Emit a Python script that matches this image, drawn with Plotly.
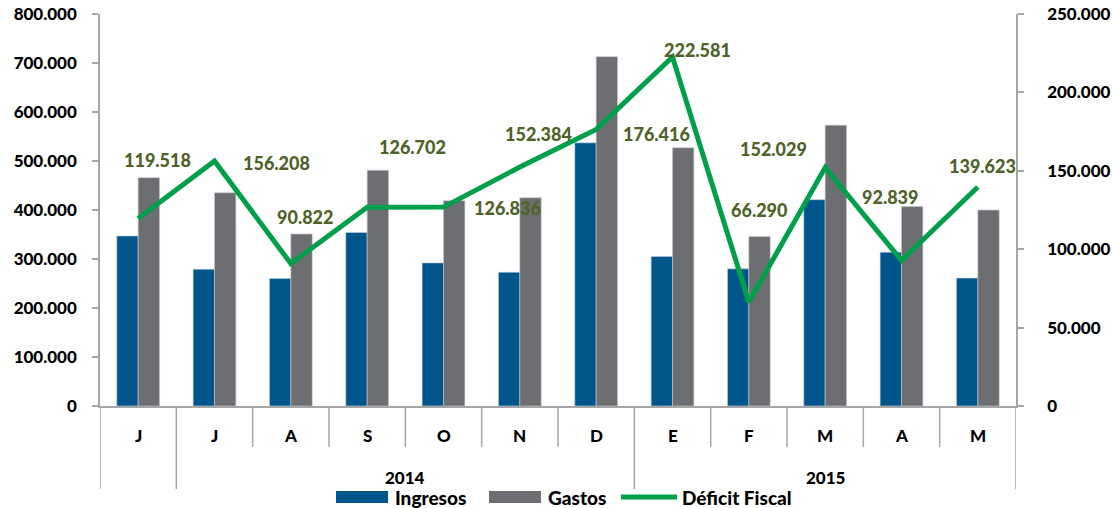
import plotly.graph_objects as go

months = ["J", "J", "A", "S", "O", "N", "D", "E", "F", "M", "A", "M"]
years = ["", "2014", "2014", "2014", "2014", "2014", "2014", "2015", "2015", "2015", "2015", "2015"]
ingresos = [347000, 279000, 260000, 354000, 292000, 273000, 537000, 305000, 280000, 421000, 314000, 261000]
gastos = [466000, 435000, 351000, 481000, 419000, 425000, 713000, 527000, 346000, 573000, 407000, 400000]
deficit = [119518, 156208, 90822, 126702, 126836, 152384, 176416, 222581, 66290, 152029, 92839, 139623]

# label offsets in pixels (dx right, dy up)
label_dx = [19, 62, 15, 45, 64, 19, 60, 25, 11, -52, -11, 5]
label_dy = [59, -2, 47, 60, -1, 33, -5, 7, 92, 19, 63, 21]

C_ING = "#00558B"
C_GAS = "#6D6E71"
C_DEF = "#00A04A"
C_LAB = "#4F6228"
C_AX = "#A6A6A6"
FONT = "Lato"
WT = 900

x = list(range(len(months)))

fig = go.Figure()
fig.add_trace(go.Bar(x=x, y=ingresos, name="Ingresos", marker=dict(color=C_ING, line=dict(width=0.6, color="#BFD3E3")), yaxis="y"))
fig.add_trace(go.Bar(x=x, y=gastos, name="Gastos", marker=dict(color=C_GAS, line=dict(width=0.6, color="#C8C8C8")), yaxis="y"))
fig.add_trace(go.Scatter(x=x, y=deficit, name="Déficit Fiscal", mode="lines", line=dict(color=C_DEF, width=5), yaxis="y2"))

W, H = 1112, 508
ml, mr, mt, mb = 100, 96, 14, 102
pw, ph = W - ml - mr, H - mt - mb

def py(pix):
    return (H - mb - pix) / ph

def px(pix):
    return (pix - ml) / pw

annotations = []
shapes = []

# data labels
for i, v in enumerate(deficit):
    annotations.append(dict(x=i, y=v, xref="x", yref="y2", text=f"{v:,.0f}".replace(",", "."),
                            showarrow=False, xshift=label_dx[i], yshift=label_dy[i],
                            xanchor="center", yanchor="middle",
                            font=dict(family=FONT, size=18, color=C_LAB, weight=WT)))

# month labels
for i, m in enumerate(months):
    annotations.append(dict(x=i, y=py(436), xref="x", yref="paper", text=m, showarrow=False,
                            xanchor="center", yanchor="middle",
                            font=dict(family=FONT, size=17, color="black", weight=WT)))

# category dividers
for k in range(1, len(months)):
    if years[k] != years[k - 1]:
        continue
    shapes.append(dict(type="line", xref="x", yref="paper", x0=k - 0.5, x1=k - 0.5, y0=0, y1=py(447),
                       line=dict(color=C_AX, width=1.5)))

# year groups
bounds = [0]
for k in range(1, len(years)):
    if years[k] != years[k - 1]:
        bounds.append(k)
bounds.append(len(years))
for b in bounds:
    shapes.append(dict(type="line", xref="x", yref="paper", x0=b - 0.5, x1=b - 0.5, y0=0, y1=py(489),
                       line=dict(color=C_AX, width=1.5)))
for a, b in zip(bounds[:-1], bounds[1:]):
    if years[a]:
        annotations.append(dict(x=(a + b - 1) / 2, y=py(477), xref="x", yref="paper", text=years[a],
                                showarrow=False, xanchor="center", yanchor="middle",
                                font=dict(family=FONT, size=17, color="black", weight=WT)))

# custom legend
leg = [("rect", C_ING, 336, 388, "Ingresos", 393),
       ("rect", C_GAS, 489, 541, "Gastos", 546),
       ("line", C_DEF, 621, 677, "Déficit Fiscal", 680)]
for kind, col, x0, x1, txt, tx in leg:
    if kind == "rect":
        shapes.append(dict(type="rect", xref="paper", yref="paper", x0=px(x0), x1=px(x1), y0=py(491), y1=py(503),
                           fillcolor=col, line=dict(width=0)))
    else:
        shapes.append(dict(type="line", xref="paper", yref="paper", x0=px(x0), x1=px(x1), y0=py(497), y1=py(497),
                           line=dict(color=col, width=5)))
    annotations.append(dict(x=px(tx), y=py(497), xref="paper", yref="paper", xanchor="left", yanchor="middle",
                            text=txt, showarrow=False,
                            font=dict(family=FONT, size=19, color="black", weight=WT)))

fig.update_layout(
    width=W, height=H,
    margin=dict(l=ml, r=mr, t=mt, b=mb, autoexpand=False),
    paper_bgcolor="white", plot_bgcolor="white",
    separators=",.",
    showlegend=False,
    barmode="group", bargap=0.44, bargroupgap=0,
    font=dict(family=FONT, size=18, color="black"),
    xaxis=dict(range=[-0.5, len(months) - 0.5], showticklabels=False, showgrid=False, zeroline=False,
               showline=True, linecolor=C_AX, linewidth=1.5, ticks="", automargin=False),
    yaxis=dict(range=[0, 800000], dtick=100000, tickformat=",.0f", showgrid=False, zeroline=False,
               showline=True, linecolor=C_AX, linewidth=1.5, ticks="outside", ticklen=6, tickcolor=C_AX,
               tickwidth=1.5, ticklabelstandoff=12, automargin=False,
               tickfont=dict(family=FONT, size=17, color="black", weight=WT)),
    yaxis2=dict(range=[0, 250000], dtick=50000, tickformat=",.0f", overlaying="y", side="right",
                showgrid=False, zeroline=False, showline=True, linecolor=C_AX, linewidth=1.5,
                ticks="outside", ticklen=6, tickcolor=C_AX, tickwidth=1.5, ticklabelstandoff=20,
                automargin=False,
                tickfont=dict(family=FONT, size=17, color="black", weight=WT)),
    annotations=annotations,
    shapes=shapes,
)

fig.write_html("out.html", config={"displayModeBar": False},
               post_script="document.body.style.margin='0';document.body.style.overflow='hidden';")
